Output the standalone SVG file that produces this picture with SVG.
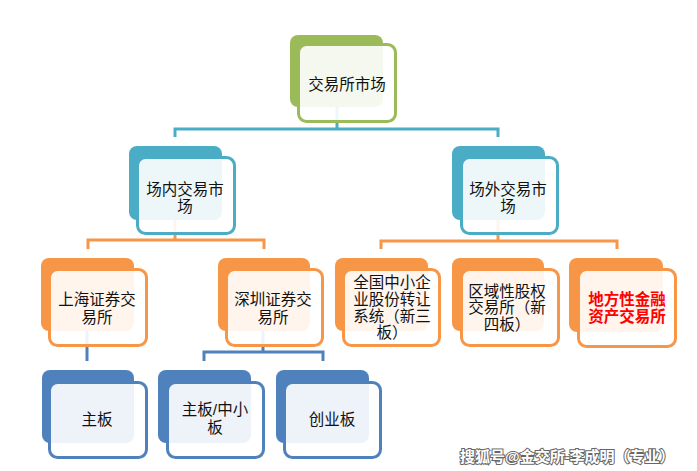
<svg xmlns="http://www.w3.org/2000/svg" width="697" height="471" viewBox="0 0 697 471">
<style>
text{font-family:"Liberation Sans","Noto Sans CJK SC",sans-serif;font-size:15.5px;fill:#111;text-anchor:middle}
.front{fill:#fff;fill-opacity:0.9;stroke-width:3}
.g .back{fill:#9bbb59}.g .front{stroke:#9bbb59}
.t .back{fill:#4bacc6}.t .front{stroke:#4bacc6}
.o .back{fill:#f79646}.o .front{stroke:#f79646}
.b .back{fill:#4f81bd}.b .front{stroke:#4f81bd}
.c{fill:none;stroke-width:3}
.red{fill:#ff0000;font-weight:bold}
.wm{font-size:15px;font-weight:bold;fill:#fff;stroke:#666;stroke-width:2;paint-order:stroke;text-anchor:start}
</style>
<g id="connectors">
<path class="c" stroke="#4bacc6" d="M337 107V129M175 137V129H498V137"/>
<path class="c" stroke="#f79646" d="M175 220V240M88 249V240H264V249M498 220V241M381 249V241H617V249"/>
<path class="c" stroke="#4f81bd" d="M87 331V361M263 331V352M204 361V352H323V361"/>
</g>
<g id="n_root" class="g">
<rect class="back" x="290" y="35" width="93" height="72" rx="8"/>
<rect class="front" x="298.5" y="44.5" width="97" height="77" rx="8"/>
<text x="347" y="90">交易所市场</text>
</g>
<g id="n_in" class="t">
<rect class="back" x="129" y="146" width="93" height="74" rx="8"/>
<rect class="front" x="137.5" y="157.5" width="97" height="76" rx="8"/>
<text x="185" y="195">场内交易市</text>
<text x="185" y="212">场</text>
</g>
<g id="n_out" class="t">
<rect class="back" x="452" y="146" width="93" height="74" rx="8"/>
<rect class="front" x="461.5" y="157.5" width="96" height="76" rx="8"/>
<text x="508" y="195">场外交易市</text>
<text x="508" y="212">场</text>
</g>
<g id="n_sh" class="o">
<rect class="back" x="41" y="258" width="93" height="73" rx="8"/>
<rect class="front" x="49.5" y="269.5" width="97" height="76" rx="8"/>
<text x="97" y="305">上海证券交</text>
<text x="97" y="323">易所</text>
</g>
<g id="n_sz" class="o">
<rect class="back" x="218" y="258" width="92" height="73" rx="8"/>
<rect class="front" x="226.5" y="269.5" width="96" height="76" rx="8"/>
<text x="273" y="305">深圳证券交</text>
<text x="273" y="323">易所</text>
</g>
<g id="n_neeq" class="o">
<rect class="back" x="335" y="258" width="93" height="73" rx="8"/>
<rect class="front" x="343.5" y="269.5" width="96" height="76" rx="8"/>
<text x="392" y="288">全国中小企</text>
<text x="392" y="305">业股份转让</text>
<text x="392" y="322">系统（新三</text>
<text x="392" y="338">板）</text>
</g>
<g id="n_region" class="o">
<rect class="back" x="452" y="258" width="92" height="73" rx="8"/>
<rect class="front" x="461.5" y="269.5" width="97" height="76" rx="8"/>
<text x="507" y="297">区域性股权</text>
<text x="507" y="313">交易所（新</text>
<text x="507" y="330">四板）</text>
</g>
<g id="n_local" class="o">
<rect class="back" x="569" y="258" width="94" height="74" rx="8"/>
<rect class="front" x="578.5" y="269.5" width="97" height="77" rx="8"/>
<text class="red" x="627" y="305">地方性金融</text>
<text class="red" x="627" y="322">资产交易所</text>
</g>
<g id="n_main" class="b">
<rect class="back" x="42" y="370" width="92" height="73" rx="8"/>
<rect class="front" x="49.5" y="382.5" width="97" height="75" rx="8"/>
<text x="97" y="425">主板</text>
</g>
<g id="n_sme" class="b">
<rect class="back" x="158" y="370" width="93" height="73" rx="8"/>
<rect class="front" x="167.5" y="382.5" width="96" height="75" rx="8"/>
<text x="215" y="415">主板/中小</text>
<text x="215" y="433">板</text>
</g>
<g id="n_gem" class="b">
<rect class="back" x="276" y="370" width="93" height="73" rx="8"/>
<rect class="front" x="284.5" y="382.5" width="96" height="75" rx="8"/>
<text x="332" y="425">创业板</text>
</g>
<text class="wm" x="460" y="462">搜狐号@金交所-李成明（专业）</text>
</svg>
